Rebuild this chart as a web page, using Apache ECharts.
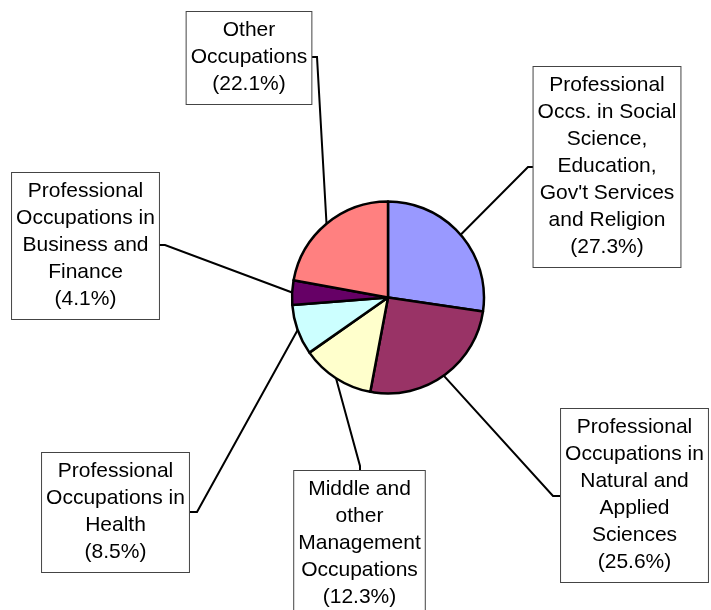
<!DOCTYPE html>
<html>
<head>
<meta charset="utf-8">
<script src="https://cdn.jsdelivr.net/npm/echarts@6/dist/echarts.min.js"></script>
<style>
  html, body { margin: 0; padding: 0; background: #fff; }
  #chart { width: 711px; height: 610px; }
</style>
</head>
<body>
<div id="chart"></div>
<script>
// 数据
var categories = [
  'Professional\nOccs. in Social\nScience,\nEducation,\nGov\'t Services\nand Religion',
  'Professional\nOccupations in\nNatural and\nApplied\nSciences',
  'Middle and\nother\nManagement\nOccupations',
  'Professional\nOccupations in\nHealth',
  'Professional\nOccupations in\nBusiness and\nFinance',
  'Other\nOccupations'
]
var shares = [27.3, 25.6, 12.3, 8.5, 4.1, 22.1]
var colors = ['#9999ff', '#993366', '#ffffcc', '#ccffff', '#660066', '#ff8080']

// 标签框位置: [框中心x, 框顶y, 拐点x, 拐点y, 终点x, 终点y]
var boxes = [
  [607, 67, 528, 167, 533, 167],
  [634.5, 409, 553, 496, 560, 496],
  [359.5, 471, 360, 466, 360, 471],
  [115.5, 453, 197, 512, 190, 512],
  [85.5, 173, 165, 245, 159, 245],
  [249, 12, 317, 57, 312, 57]
]

var pieData = []
for (var i = 0; i < shares.length; i++) {
  pieData.push({ name: categories[i], value: shares[i], itemStyle: { color: colors[i] } })
}

var chart = echarts.init(document.getElementById('chart'))
chart.setOption({
  animation: false,
  series: [{
    type: 'pie',
    center: [388, 297.5],
    radius: 96,
    startAngle: 90,
    clockwise: true,
    avoidLabelOverlap: false,
    itemStyle: { borderColor: '#000', borderWidth: 2.5 },
    emphasis: { disabled: true },
    label: {
      show: true,
      formatter: function (p) { return p.name + '\n(' + p.value.toFixed(1) + '%)' },
      fontFamily: 'Liberation Sans, Arial, sans-serif',
      fontSize: 21,
      lineHeight: 27,
      color: '#000',
      backgroundColor: '#fff',
      borderColor: '#444',
      borderWidth: 1,
      padding: [5, 4, 6, 4]
    },
    labelLine: { show: false },
    labelLayout: function (p) {
      var b = boxes[p.dataIndex]
      return { x: b[0], y: b[1], align: 'center', verticalAlign: 'top' }
    },
    data: pieData
  }]
})

// 引导线: 从扇区中点角度的边缘到标签框
var data = chart.getModel().getSeriesByIndex(0).getData()
var lines = []
for (var j = 0; j < shares.length; j++) {
  var lay = data.getItemLayout(j)
  var mid = (lay.startAngle + lay.endAngle) / 2
  var sx = lay.cx + lay.r * Math.cos(mid)
  var sy = lay.cy + lay.r * Math.sin(mid)
  var b = boxes[j]
  lines.push({
    type: 'polyline',
    z: -1,
    shape: { points: [[sx, sy], [b[2], b[3]], [b[4], b[5]]] },
    style: { stroke: '#000', lineWidth: 2, fill: null }
  })
}
chart.setOption({ graphic: lines })
</script>
</body>
</html>
